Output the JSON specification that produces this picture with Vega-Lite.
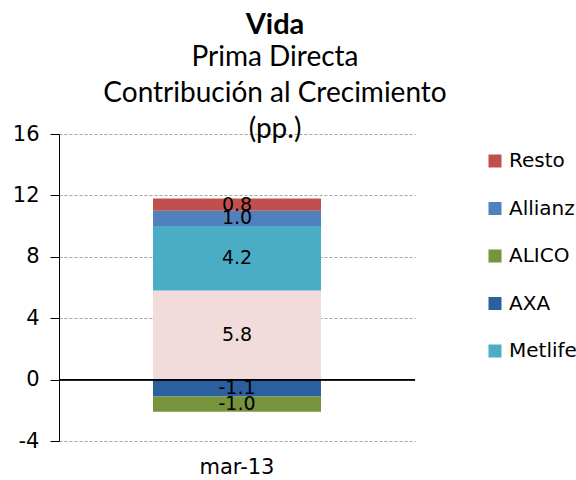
{
  "$schema": "https://vega.github.io/schema/vega-lite/v6.json",
  "width": 356,
  "height": 307,
  "autosize": "none",
  "padding": {"left": 59, "top": 134, "right": 161, "bottom": 39},
  "background": "white",
  "config": {"view": {"stroke": null}, "font": "DejaVu Sans", "locale": {"number": {"decimal": ".", "thousands": ",", "grouping": [3], "currency": ["$", ""], "minus": "-"}}},
  "title": {
    "text": "Vida",
    "subtitle": ["Prima Directa", "Contribución al Crecimiento", "(pp.)"],
    "font": "Lato",
    "fontSize": 29,
    "fontWeight": "bold",
    "subtitleFont": "Lato",
    "subtitleFontSize": 28,
    "subtitleLineHeight": 36,
    "subtitlePadding": 4,
    "color": "black",
    "subtitleColor": "black",
    "anchor": "middle",
    "dx": 38,
    "offset": -21
  },
  "data": {
    "values": [
      {"periodo": "mar-13", "compania": "Otros", "valor": 5.8, "orden": 1},
      {"periodo": "mar-13", "compania": "Metlife", "valor": 4.2, "orden": 2},
      {"periodo": "mar-13", "compania": "AXA", "valor": -1.1, "orden": 3},
      {"periodo": "mar-13", "compania": "ALICO", "valor": -1.0, "orden": 4},
      {"periodo": "mar-13", "compania": "Allianz", "valor": 1.0, "orden": 5},
      {"periodo": "mar-13", "compania": "Resto", "valor": 0.8, "orden": 6}
    ]
  },
  "transform": [
    {"stack": "valor", "groupby": ["periodo"], "sort": [{"field": "orden", "order": "ascending"}], "as": ["y0", "y1"], "offset": "zero"},
    {"calculate": "(datum.y0 + datum.y1) / 2", "as": "ymid"}
  ],
  "encoding": {
    "x": {
      "field": "periodo",
      "type": "nominal",
      "axis": {"title": null, "labelAngle": 0, "domain": false, "ticks": false, "labelFontSize": 21, "labelColor": "black", "labelPadding": 15}
    }
  },
  "layer": [
    {
      "mark": {"type": "bar", "width": 168},
      "encoding": {
        "y": {
          "field": "y0",
          "type": "quantitative",
          "scale": {"domain": [-4, 16], "nice": false, "zero": false},
          "axis": {
            "title": null,
            "values": [-4, 0, 4, 8, 12, 16],
            "gridDash": [3, 2],
            "gridColor": "#a6a6a6",
            "domainColor": "black",
            "tickColor": "black",
            "tickSize": 9,
            "labelPadding": 11,
            "labelFontSize": 21,
            "labelColor": "black"
          }
        },
        "y2": {"field": "y1"},
        "color": {
          "field": "compania",
          "type": "nominal",
          "scale": {
            "domain": ["Resto", "Allianz", "ALICO", "AXA", "Metlife", "Otros"],
            "range": ["#C0504D", "#4F81BD", "#77933C", "#2C5F9E", "#4BACC6", "#F2DCDB"]
          },
          "legend": {
            "values": ["Resto", "Allianz", "ALICO", "AXA", "Metlife"],
            "title": null,
            "orient": "none",
            "legendX": 426,
            "legendY": 17,
            "symbolType": "square",
            "symbolSize": 169,
            "symbolStrokeWidth": 0,
            "labelFontSize": 20,
            "labelColor": "black",
            "rowPadding": 27.5,
            "labelOffset": 4
          }
        }
      }
    },
    {
      "mark": {"type": "rule", "color": "black", "strokeWidth": 1.2},
      "encoding": {"y": {"datum": 0, "type": "quantitative"}, "x": {"value": 0}, "x2": {"value": 356}}
    },
    {
      "mark": {"type": "text", "fontSize": 19, "color": "black", "baseline": "middle"},
      "encoding": {
        "y": {"field": "ymid", "type": "quantitative"},
        "text": {"field": "valor", "type": "quantitative", "format": ".1f"}
      }
    }
  ]
}
